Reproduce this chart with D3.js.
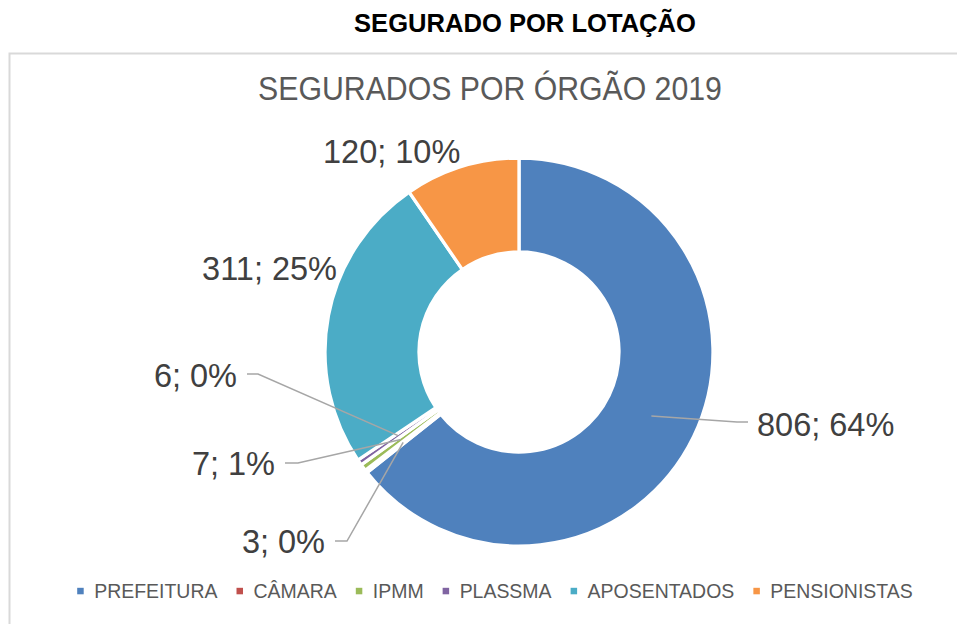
<!DOCTYPE html>
<html>
<head>
<meta charset="utf-8">
<script src="https://cdn.jsdelivr.net/npm/d3@7"></script>
<style>
  html, body { margin: 0; padding: 0; background: #fff; }
  svg { display: block; }
  text { font-family: "Liberation Sans", Arial, sans-serif; }
</style>
</head>
<body>
<svg id="chart" width="957" height="624"></svg>
<script>
// ---- data ----
const categories = ["PREFEITURA", "CÂMARA", "IPMM", "PLASSMA", "APOSENTADOS", "PENSIONISTAS"];
const values = [806, 3, 7, 6, 311, 120];
const colors = ["#4F81BD", "#C0504D", "#9BBB59", "#8064A2", "#4BACC6", "#F79646"];
const pageTitle = "SEGURADO POR LOTAÇÃO";
const chartTitle = "SEGURADOS POR ÓRGÃO 2019";

// ---- layout (label placement, not data) ----
const labelLayout = [
  { x: 757, y: 435.7, anchor: "start", elbow: [737, 422], end: [748, 422] },
  { x: 325, y: 553, anchor: "end", elbow: [347, 541], end: [335, 541] },
  { x: 275, y: 475, anchor: "end", elbow: [298, 463], end: [285, 463] },
  { x: 237, y: 386.7, anchor: "end", elbow: [258, 374], end: [247, 374] },
  { x: 337, y: 280, anchor: "end" },
  { x: 323, y: 163.3, anchor: "start" }
];

const svg = d3.select("#chart");

function fitWidth(sel, target) {
  const w = sel.node().getComputedTextLength();
  const s = target / w;
  const x = +sel.attr("x");
  const y = +sel.attr("y");
  sel.attr("transform", `translate(${x},${y}) scale(${s},1) translate(${-x},${-y})`);
}

// page title
const t1 = svg.append("text")
  .attr("x", 525).attr("y", 32.3)
  .attr("text-anchor", "middle")
  .attr("font-weight", "bold")
  .attr("font-size", 26.5)
  .attr("fill", "#000")
  .text(pageTitle);
fitWidth(t1, 342);

// chart area border
svg.append("rect")
  .attr("x", 9.5).attr("y", 53.5)
  .attr("width", 1000).attr("height", 700)
  .attr("fill", "#fff")
  .attr("stroke", "#d9d9d9")
  .attr("stroke-width", 2);

// chart title
const t2 = svg.append("text")
  .attr("x", 490).attr("y", 100)
  .attr("text-anchor", "middle")
  .attr("font-size", 33)
  .attr("fill", "#595959")
  .text(chartTitle);
fitWidth(t2, 464);

// ---- donut ----
const cx = 519, cy = 352, rOuter = 194, rInner = 100;
const total = d3.sum(values);
const data = categories.map((c, i) => ({ cat: c, value: values[i], color: colors[i], lab: labelLayout[i] }));

const pie = d3.pie().value(d => d.value).sort(null).startAngle(0).endAngle(2 * Math.PI);
const arc = d3.arc().innerRadius(rInner).outerRadius(rOuter);
const arcs = pie(data);

const g = svg.append("g").attr("transform", `translate(${cx},${cy})`);
g.selectAll("path.slice")
  .data(arcs)
  .join("path")
  .attr("class", "slice")
  .attr("d", arc)
  .attr("fill", d => d.data.color)
  .attr("stroke", "#fff")
  .attr("stroke-width", 3.3)
  .attr("stroke-linejoin", "miter");

// leader lines
const fmtPct = d3.format(".0%");
arcs.forEach(a => {
  const L = a.data.lab;
  if (L.elbow) {
    const c = arc.centroid(a);
    const pts = [[cx + c[0], cy + c[1]], L.elbow, L.end];
    svg.append("path")
      .attr("d", d3.line()(pts))
      .attr("fill", "none")
      .attr("stroke", "#a6a6a6")
      .attr("stroke-width", 1.5);
  }
});

// data labels
svg.selectAll("text.lbl")
  .data(arcs)
  .join("text")
  .attr("class", "lbl")
  .attr("x", d => d.data.lab.x)
  .attr("y", d => d.data.lab.y)
  .attr("text-anchor", d => d.data.lab.anchor)
  .attr("font-size", 32.5)
  .attr("fill", "#404040")
  .text(d => `${d.data.value}; ${fmtPct(d.data.value / total)}`);

// ---- legend ----
const legendFont = 21, legendScale = 0.927, sq = 6.5, textOff = 17, gap = 19;
const lg = svg.append("g");
let xpos = 0;
data.forEach(d => {
  const item = lg.append("g");
  item.append("rect")
    .attr("x", xpos).attr("y", 587.8)
    .attr("width", sq).attr("height", sq)
    .attr("fill", d.color);
  const tX = xpos + textOff;
  const tx = item.append("text")
    .attr("x", tX).attr("y", 598)
    .attr("font-size", legendFont)
    .attr("fill", "#595959")
    .text(d.cat);
  const w = tx.node().getComputedTextLength() * legendScale;
  tx.attr("transform", `translate(${tX},0) scale(${legendScale},1) translate(${-tX},0)`);
  xpos = tX + w + gap;
});
const totalW = xpos - gap;
lg.attr("transform", `translate(${495 - totalW / 2},0)`);
</script>
</body>
</html>
